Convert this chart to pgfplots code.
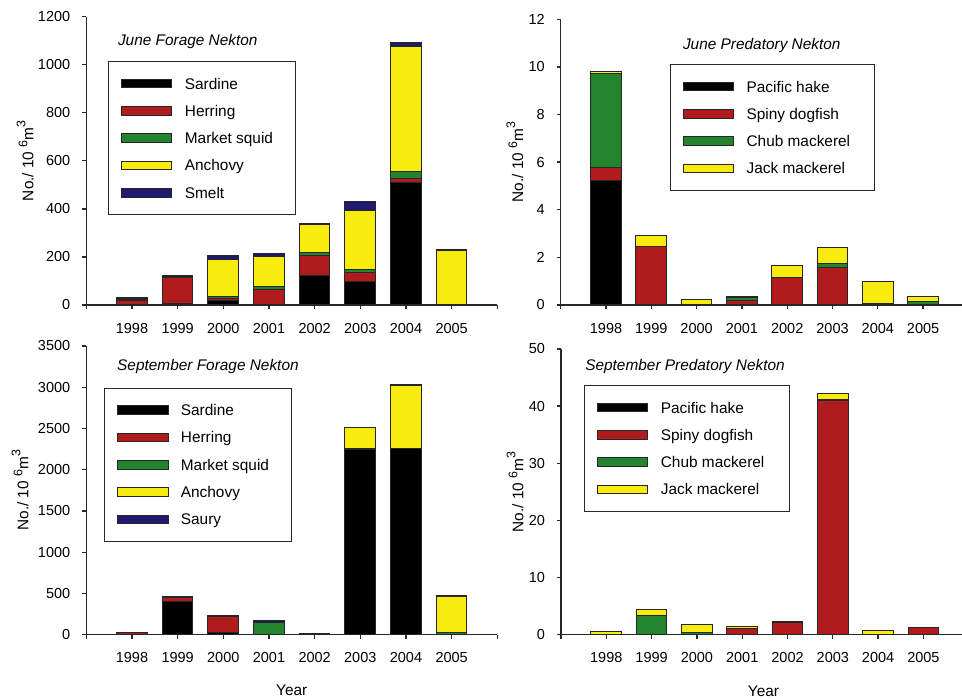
\documentclass[border=0pt]{standalone}
\usepackage{fontspec}
\setmainfont{Liberation Sans}
\usepackage{pgfplots}
\pgfplotsset{compat=1.18}
\definecolor{cSar}{RGB}{0,0,0}
\definecolor{cHer}{RGB}{176,28,30}
\definecolor{cSqu}{RGB}{34,133,46}
\definecolor{cAnc}{RGB}{248,236,14}
\definecolor{cSme}{RGB}{31,26,112}
\definecolor{axgray}{RGB}{40,40,40}
\newcommand\lgf[1]{\makebox[49.15pt][l]{#1}}
\newcommand\lgp[1]{\makebox[57.8pt][l]{#1}}
\newcommand\ylab{No./ 10 \raisebox{3pt}{\fontsize{6.2}{6}\selectfont 6}m\raisebox{4pt}{\fontsize{6.2}{6}\selectfont 3}}
\tikzset{ttl/.style={anchor=west, font=\itshape\fontsize{7.7}{9}\selectfont}}
\pgfplotsset{
  panel/.style={
    scale only axis, anchor=south west,
    xmin=0, ymin=0, enlargelimits=false, clip=false,
    axis lines*=left, axis line style={-, axgray, line width=0.65pt},
    tick align=outside, major tick length=2pt,
    every tick/.style={axgray, line width=0.65pt},
    xtick={0,...,9}, xticklabels={,1998,1999,2000,2001,2002,2003,2004,2005,},
    ybar stacked, bar width=15.35pt,
    tick label style={font=\fontsize{7.25}{8}\selectfont},
    xticklabel style={yshift=-3.5pt},
    yticklabel style={xshift=-2.5pt},
    /pgf/number format/assume math mode=true,
    /pgf/number format/1000 sep={},
    label style={font=\fontsize{7.7}{9}\selectfont},
    every axis plot post/.append style={draw=black!85, line width=0.5pt,
      legend image code/.code={\draw[##1,line width=0.5pt] (0pt,-2.15pt) rectangle (25pt,2.15pt);}},
    legend style={draw=axgray, line width=0.5pt, anchor=north west,
      font=\fontsize{7.7}{9}\selectfont,
      inner xsep=6.35pt, inner ysep=8.25pt, row sep=8.15pt,
      nodes={inner sep=0pt, text height=5.5pt, text depth=0pt},
      /tikz/every odd column/.append style={column sep=6.2pt}},
    legend cell align=left,
  },
}
\begin{document}
\begin{tikzpicture}
\useasboundingbox (0,0) rectangle (481pt,350pt);
% ---------------- June Forage
\begin{axis}[panel, at={(43.15pt,197.5pt)}, width=205.5pt, height=144.15pt,
  xmax=9, ymax=1200, ytick={0,200,...,1200},
  ylabel={\ylab}, ylabel style={at={(axis description cs:-0.129,0.5)}, anchor=base, rotate=0},
  legend style={at={(rel axis cs:0.0535,0.8463)}}]
\addplot[fill=cSar] coordinates {(1,0) (2,8) (3,17) (4,0) (5,121) (6,96) (7,509) (8,0)};
\addlegendentry{\lgf{Sardine}}
\addplot[fill=cHer] coordinates {(1,20) (2,105) (3,11) (4,65) (5,83) (6,39) (7,19) (8,0)};
\addlegendentry{\lgf{Herring}}
\addplot[fill=cSqu] coordinates {(1,3) (2,6) (3,9) (4,14) (5,16) (6,11) (7,27) (8,0)};
\addlegendentry{\lgf{Market squid}}
\addplot[fill=cAnc] coordinates {(1,3) (2,1) (3,154) (4,123) (5,113) (6,249) (7,520) (8,228)};
\addlegendentry{\lgf{Anchovy}}
\addplot[fill=cSme] coordinates {(1,4) (2,2) (3,13) (4,13) (5,5) (6,34) (7,17) (8,3)};
\addlegendentry{\lgf{Smelt}}
\node[ttl] at (rel axis cs:0.060,0.913) {June Forage Nekton};
\end{axis}
% ---------------- June Predatory
\begin{axis}[panel, at={(280.35pt,197.5pt)}, width=200.45pt, height=142.85pt,
  xmax=8.85, ymax=12, ytick={0,2,...,12},
  ylabel={\ylab}, ylabel style={at={(axis description cs:-0.094,0.5)}, anchor=base, rotate=0},
  legend style={at={(rel axis cs:0.2726,0.8435)}}]
\addplot[fill=cSar] coordinates {(1,5.21) (2,0) (3,0) (4,0) (5,0) (6,0) (7,0) (8,0)};
\addlegendentry{\lgp{Pacific hake}}
\addplot[fill=cHer] coordinates {(1,0.57) (2,2.45) (3,0.02) (4,0.17) (5,1.16) (6,1.57) (7,0.08) (8,0)};
\addlegendentry{\lgp{Spiny dogfish}}
\addplot[fill=cSqu] coordinates {(1,3.95) (2,0.02) (3,0) (4,0.14) (5,0) (6,0.18) (7,0) (8,0.15)};
\addlegendentry{\lgp{Chub mackerel}}
\addplot[fill=cAnc] coordinates {(1,0.09) (2,0.43) (3,0.23) (4,0.03) (5,0.51) (6,0.66) (7,0.9) (8,0.21)};
\addlegendentry{\lgp{Jack mackerel}}
\node[ttl] at (rel axis cs:0.2875,0.9076) {June Predatory Nekton};
\end{axis}
% ---------------- September Forage
\begin{axis}[panel, at={(43.15pt,32.65pt)}, width=205.5pt, height=144.35pt,
  xmax=9, ymax=3500, ytick={0,500,...,3500},
  ylabel={\ylab}, ylabel style={at={(axis description cs:-0.141,0.5)}, anchor=base, rotate=0},
  xlabel={Year}, xlabel style={at={(axis description cs:0.5,-0.2123)}, anchor=base},
  legend style={at={(rel axis cs:0.0438,0.8556)}}]
\addplot[fill=cSar] coordinates {(1,3) (2,400) (3,28) (4,3) (5,4) (6,2246) (7,2262) (8,0)};
\addlegendentry{\lgf{Sardine}}
\addplot[fill=cHer] coordinates {(1,22) (2,57) (3,194) (4,0) (5,0) (6,16) (7,0) (8,0)};
\addlegendentry{\lgf{Herring}}
\addplot[fill=cSqu] coordinates {(1,0) (2,0) (3,0) (4,140) (5,0) (6,0) (7,0) (8,25)};
\addlegendentry{\lgf{Market squid}}
\addplot[fill=cAnc] coordinates {(1,0) (2,0) (3,0) (4,0) (5,0) (6,251) (7,760) (8,436)};
\addlegendentry{\lgf{Anchovy}}
\addplot[fill=cSme] coordinates {(1,3) (2,4) (3,8) (4,30) (5,8) (6,0) (7,16) (8,10)};
\addlegendentry{\lgf{Saury}}
\node[ttl] at (rel axis cs:0.058,0.928) {September Forage Nekton};
\end{axis}
% ---------------- September Predatory
\begin{axis}[panel, at={(280.5pt,32.65pt)}, width=200.45pt, height=142.85pt,
  xmax=8.85, ymax=50, ytick={0,10,...,50},
  ylabel={\ylab}, ylabel style={at={(axis description cs:-0.094,0.5)}, anchor=base, rotate=0},
  xlabel={Year}, xlabel style={at={(axis description cs:0.505,-0.2146)}, anchor=base},
  legend style={at={(rel axis cs:0.058,0.874)}}]
\addplot[fill=cSar] coordinates {(1,0) (2,0) (3,0) (4,0) (5,0) (6,0) (7,0) (8,0)};
\addlegendentry{\lgp{Pacific hake}}
\addplot[fill=cHer] coordinates {(1,0) (2,0) (3,0) (4,1.05) (5,2.1) (6,41.07) (7,0) (8,1.34)};
\addlegendentry{\lgp{Spiny dogfish}}
\addplot[fill=cSqu] coordinates {(1,0.1) (2,3.33) (3,0.47) (4,0.12) (5,0.1) (6,0.05) (7,0) (8,0)};
\addlegendentry{\lgp{Chub mackerel}}
\addplot[fill=cAnc] coordinates {(1,0.48) (2,1.1) (3,1.28) (4,0.29) (5,0.08) (6,1.17) (7,0.76) (8,0)};
\addlegendentry{\lgp{Jack mackerel}}
\node[ttl] at (rel axis cs:0.043,0.938) {September Predatory Nekton};
\end{axis}
\end{tikzpicture}
\end{document}
